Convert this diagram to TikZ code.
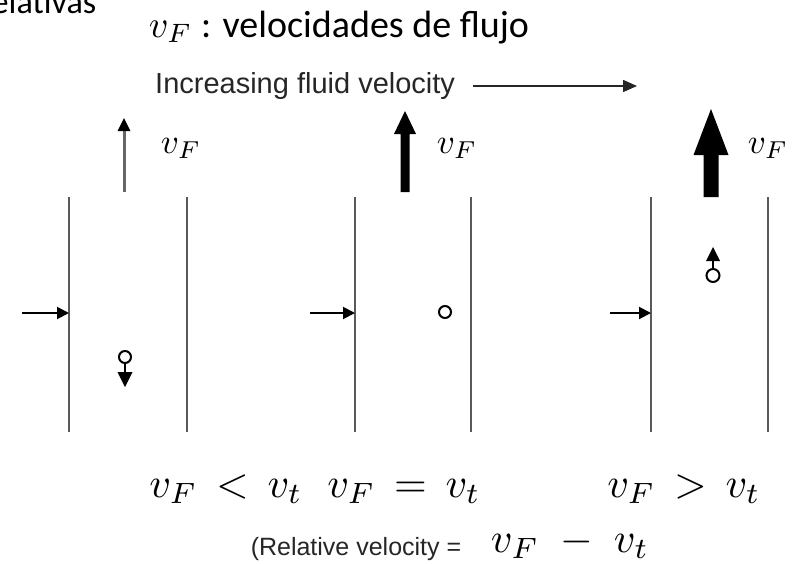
\documentclass[tikz,border=0pt]{standalone}
\usepackage{fontspec}
\setmainfont{Carlito}
\newfontfamily\helv{Liberation Sans}
\usetikzlibrary{arrows.meta}
\tikzset{
  wall/.style={draw=black!65, line width=2pt},
  inlet/.style={line width=2pt, -{Triangle[length=12pt,width=12pt]}},
  bigtext/.style={inner sep=0pt, font=\fontsize{10}{12}\selectfont, scale=3.8},
  helvtext/.style={inner sep=0pt, text=black!85, font=\helv\fontsize{29}{34}\selectfont},
  reltext/.style={inner sep=0pt, text=black!85, font=\helv\fontsize{25}{30}\selectfont},
  vflabel/.style={inner sep=0pt, font=\fontsize{10}{12}\selectfont, scale=3.5},
  eqlabel/.style={inner sep=0pt, font=\fontsize{10}{12}\selectfont, scale=4.2},
  particle/.style={draw=black, line width=2pt, fill=white},
}
\begin{document}
\begin{tikzpicture}[x=1pt,y=-1pt]
\useasboundingbox (0,0) rectangle (806,563);

% top texts
\node[bigtext, scale=0.9, anchor=base east] (rel) at (97,13) {relativas};
\node[bigtext, anchor=base west] (title) at (148,37) {$v_F$ : velocidades de flujo};
\node[helvtext, anchor=base west] (inc) at (155,93) {Increasing fluid velocity};
\coordinate (incend) at (637,86);
\draw[line width=1.5pt, black!85, -{Triangle[length=14pt,width=12pt]}] (inc.east |- incend) ++(18,0) coordinate (incstart) -- (incend);

% walls
\foreach \n/\x in {a/69, b/187, c/355, d/471, e/651, f/768} {
  \coordinate (\n top) at (\x,197);
  \coordinate (\n bot) at (\x,432);
  \draw[wall] (\n top) -- (\n bot);
}

% inlet arrows
\coordinate (in1) at (22,313);
\coordinate (in2) at (310,313);
\coordinate (in3) at (610,313);
\draw[inlet] (in1) -- (in1 -| atop);
\draw[inlet] (in2) -- (in2 -| ctop);
\draw[inlet] (in3) -- (in3 -| etop);

% fluid velocity arrows
\draw[line width=3pt, black!60] (124,192) -- (124,129);
\fill[black] (124,118) -- (130.5,131) -- (117.5,131) -- cycle;

\fill[black] (400.5,192) -- (400.5,134) -- (394,134) -- (405,111) -- (416,134) -- (409.5,134) -- (409.5,192) -- cycle;

\fill[black] (703.5,197) -- (703.5,155) -- (693.5,155) -- (711,109) -- (728.5,155) -- (718.5,155) -- (718.5,197) -- cycle;

\node[vflabel, anchor=base] (vf1) at (181,153) {$v_F$};
\node[vflabel, anchor=base] (vf2) at (457,153) {$v_F$};
\node[vflabel, anchor=base] (vf3) at (768,153) {$v_F$};

% particles
\draw[line width=2pt] (125,363) -- (125,373);
\fill[black] (117.5,372) -- (132.5,372) -- (125,387) -- cycle;
\draw[particle] (125,357) circle[radius=6];

\draw[particle] (445,312) circle[radius=6];

\draw[line width=2pt] (713,258) -- (713,270);
\fill[black] (713,247) -- (720,261) -- (706,261) -- cycle;
\draw[particle] (713,275.5) circle[radius=6.5];

% bottom labels
\node[eqlabel, anchor=base] (lt) at (226,497) {$v_F \,<\, v_t$};
\node[eqlabel, anchor=base] (eq) at (404,497) {$v_F \,=\, v_t$};
\node[eqlabel, anchor=base] (gt) at (684,497) {$v_F \,>\, v_t$};
\node[reltext, anchor=base] (relv) at (356,555) {(Relative velocity =};
\node[eqlabel, anchor=base] (diff) at (570,552) {$v_F \;-\; v_t$};
\end{tikzpicture}
\end{document}
